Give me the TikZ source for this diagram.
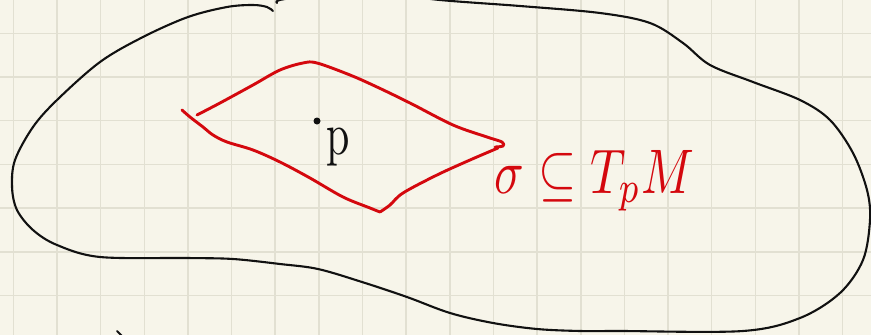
\documentclass[tikz,border=0pt]{standalone}
\definecolor{paper}{HTML}{F7F5EA}
\definecolor{gridc}{HTML}{E2E0D2}
\definecolor{ink}{HTML}{111111}
\definecolor{redink}{HTML}{D4080E}
\tikzset{
  gridline/.style={draw=gridc, line width=1.5pt},
  blackstroke/.style={draw=ink, line width=2.1pt, line cap=round, line join=round},
  redstroke/.style={draw=redink, line width=2.9pt, line cap=round, line join=round},
  redlabel/.style={text=redink, inner sep=0pt, anchor=base west},
  blacklabel/.style={text=ink, inner sep=0pt, anchor=base west}
}
\begin{document}
\begin{tikzpicture}[x=1pt,y=-1pt]
\useasboundingbox (0,0) rectangle (871,335);
\fill[paper] (0,0) rectangle (871,335);
\clip (0,0) rectangle (871,335);
% grid
\foreach \i in {0,...,19} {
  \draw[gridline] ({13.3+43.65*\i},0) -- ({13.3+43.65*\i},335);
}
\foreach \j in {0,...,6} {
  \draw[gridline] (0,{33.3+43.7*\j}) -- (871,{33.3+43.7*\j});
}
% manifold outline
\draw[blackstroke] plot[smooth, tension=0.55] coordinates {
  (273,11) (267,7) (253,5) (227,7) (188,17) (143,37) (100,62) (57,100)
  (33,127) (15,160) (12,187) (17,210) (33,230) (57,245) (100,257)
  (187,258) (233,259) (280,264) (318,269) (362,282) (407,297) (450,313)
  (493,323) (537,329) (580,331) (620,331) (743,331) (800,318) (840,293)
  (863,260) (870,220) (867,190) (853,153) (830,120) (800,100) (753,82)
  (710,65) (683,43) (650,23) (600,13) (520,6) (440,0) (360,-9) (285,-1) (277,3)};
\coordinate (tick1) at (117,331);
\coordinate (tick2) at (123,337);
\draw[blackstroke] (tick1) -- (tick2);
% tangent plane sigma
\draw[redstroke] plot[smooth, tension=0.55] coordinates {
  (197,115) (220,103) (253,85) (280,70) (303,63) (317,63) (350,75)
  (377,87) (410,103) (453,125) (487,137) (502,142) (503,146) (495,147)};
\draw[redstroke] plot[smooth, tension=0.55] coordinates {
  (182,110) (190,117) (203,127) (213,135) (227,142) (253,150) (280,162)
  (310,178) (343,197) (370,208) (380,212)}
  plot[smooth, tension=0.55] coordinates {
  (380,212) (390,205) (403,193) (437,175) (470,160) (498,148)};
% point p
\node[circle, fill=ink, inner sep=0pt, minimum size=7pt] (pdot) at (317,121) {};
\node[blacklabel, xscale=4.2, yscale=6.0] (plabel) at (326,154) {p};
% label
\node[redlabel, xscale=4.9, yscale=6.3] (siglabel) at (494,193) {$\sigma\subseteq T_{p}M$};
\end{tikzpicture}
\end{document}
